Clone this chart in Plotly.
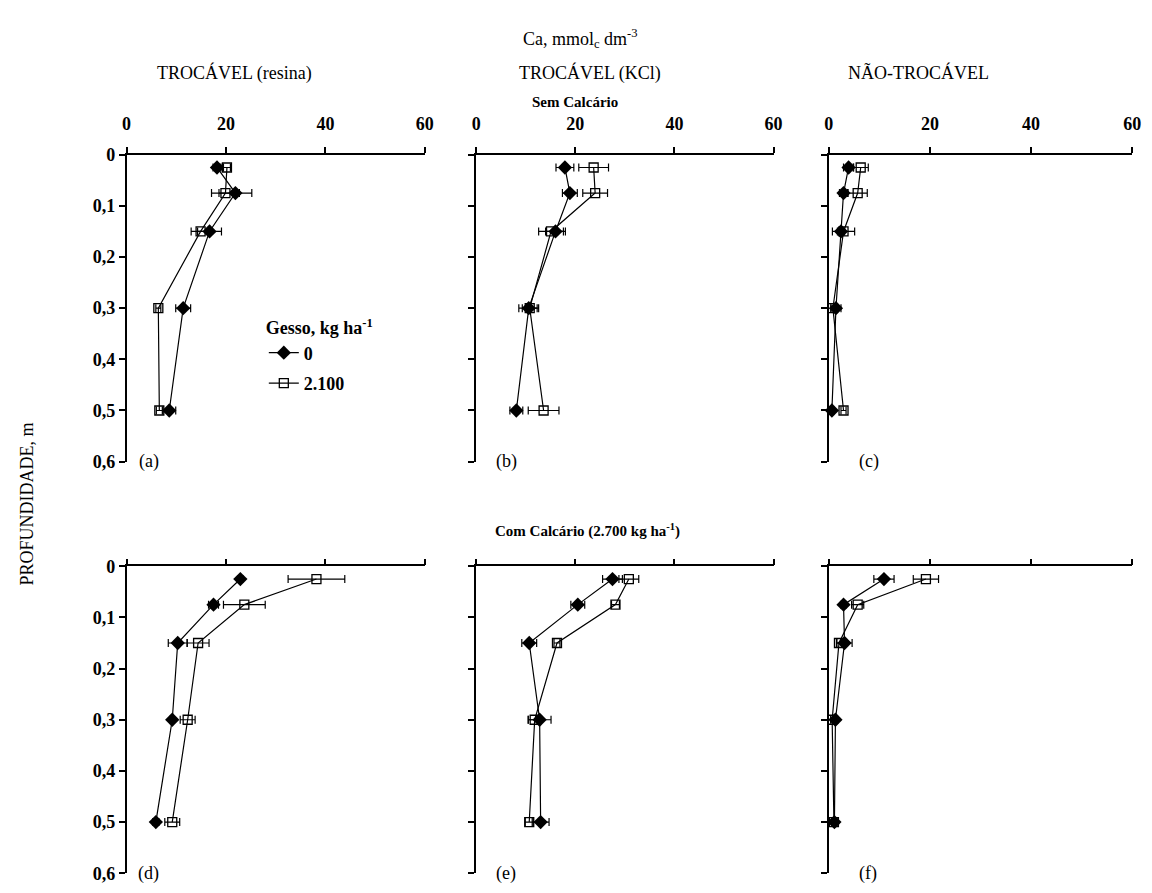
import plotly.graph_objects as go

# ---------------- data ----------------
depth = [0.025, 0.075, 0.15, 0.3, 0.5]

# (a) TROCÁVEL (resina), sem calcário
a_g0 = [18.2, 21.9, 16.7, 11.4, 8.6]
a_g0_err = [0.8, 3.3, 2.4, 1.5, 1.3]
a_g1 = [20.2, 19.9, 14.9, 6.4, 6.6]
a_g1_err = [0.7, 2.8, 1.9, 0.5, 0.6]
# (b) TROCÁVEL (KCl), sem calcário
b_g0 = [17.9, 18.9, 16.0, 10.6, 8.1]
b_g0_err = [1.8, 1.5, 2.0, 2.0, 1.3]
b_g1 = [23.7, 24.0, 15.1, 10.8, 13.6]
b_g1_err = [3.0, 2.5, 2.5, 1.5, 3.1]
# (c) NÃO-TROCÁVEL, sem calcário
c_g0 = [3.9, 2.9, 2.4, 1.4, 0.6]
c_g0_err = [1.0, 0.8, 0.7, 1.0, 0.4]
c_g1 = [6.3, 5.7, 2.9, 0.8, 2.9]
c_g1_err = [1.5, 1.9, 2.2, 0.4, 0.5]
# (d) TROCÁVEL (resina), com calcário
d_g0 = [22.9, 17.5, 10.3, 9.2, 5.9]
d_g0_err = [0.5, 1.0, 1.9, 0.4, 0.6]
d_g1 = [38.2, 23.7, 14.4, 12.3, 9.2]
d_g1_err = [5.7, 4.2, 2.2, 1.5, 1.5]
# (e) TROCÁVEL (KCl), com calcário
e_g0 = [27.5, 20.5, 10.7, 12.8, 13.0]
e_g0_err = [2.0, 1.4, 1.5, 2.3, 1.7]
e_g1 = [30.8, 28.1, 16.3, 11.8, 10.7]
e_g1_err = [2.0, 0.8, 0.6, 1.3, 0.8]
# (f) NÃO-TROCÁVEL, com calcário
f_g0 = [10.9, 2.9, 3.1, 1.3, 1.1]
f_g0_err = [2.0, 0.5, 1.5, 0.5, 0.4]
f_g1 = [19.2, 5.7, 2.0, 0.65, 1.0]
f_g1_err = [2.5, 1.2, 0.5, 0.3, 0.4]

series_names = ["0", "2.100"]
x_ticks = [0, 20, 40, 60]
y_ticks = [0, 0.1, 0.2, 0.3, 0.4, 0.5, 0.6]
y_ticktext = ["0", "0,1", "0,2", "0,3", "0,4", "0,5", "0,6"]
col_titles = ["TROCÁVEL (resina)", "TROCÁVEL (KCl)", "NÃO-TROCÁVEL"]
panel_labels = ["(a)", "(b)", "(c)", "(d)", "(e)", "(f)"]

panels = [
    (a_g0, a_g0_err, a_g1, a_g1_err),
    (b_g0, b_g0_err, b_g1, b_g1_err),
    (c_g0, c_g0_err, c_g1, c_g1_err),
    (d_g0, d_g0_err, d_g1, d_g1_err),
    (e_g0, e_g0_err, e_g1, e_g1_err),
    (f_g0, f_g0_err, f_g1, f_g1_err),
]

# ---------------- layout geometry ----------------
W, H = 1152, 893
FONT = "Liberation Serif, Times New Roman, serif"
col_px = [(123, 425), (477, 778), (834, 1141)]
row_px = [(148, 462), (569, 883)]

fig = go.Figure()
layout = dict(
    width=W, height=H,
    margin=dict(l=0, r=0, t=0, b=0),
    paper_bgcolor="white", plot_bgcolor="white",
    font=dict(family=FONT, color="black", size=18),
    showlegend=True,
)

for i, (g0, g0e, g1, g1e) in enumerate(panels):
    r, c = divmod(i, 3)
    n = i + 1
    xa = "x" if n == 1 else f"x{n}"
    ya = "y" if n == 1 else f"y{n}"
    err_style = dict(type="data", color="black", thickness=1.2, width=4, visible=True)
    fig.add_trace(go.Scatter(
        x=g0, y=depth, xaxis=xa, yaxis=ya, mode="lines+markers",
        name=series_names[0], legendgroup="g0", showlegend=(i == 0),
        line=dict(color="black", width=1.2),
        marker=dict(symbol="diamond", size=11, color="black"),
        error_x=dict(array=g0e, **err_style), cliponaxis=False,
    ))
    fig.add_trace(go.Scatter(
        x=g1, y=depth, xaxis=xa, yaxis=ya, mode="lines+markers",
        name=series_names[1], legendgroup="g1", showlegend=(i == 0),
        line=dict(color="black", width=1.2),
        marker=dict(symbol="square-open", size=9, color="black", line=dict(width=1.3)),
        error_x=dict(array=g1e, **err_style), cliponaxis=False,
    ))
    x0, x1 = col_px[c]
    y0, y1 = row_px[r]
    axis_common = dict(
        showline=True, linecolor="black", linewidth=1.5,
        ticks="outside", ticklen=6, tickwidth=1.5, tickcolor="black",
        showgrid=False, zeroline=False, fixedrange=True,
        tickfont=dict(family=FONT, size=18, color="black", weight="bold"),
    )
    layout["xaxis" if n == 1 else f"xaxis{n}"] = dict(
        axis_common, domain=[x0 / W, x1 / W], range=[0, 60],
        tickvals=x_ticks, side="top", anchor=ya,
        showticklabels=(r == 0), ticklabelstandoff=10,
    )
    layout["yaxis" if n == 1 else f"yaxis{n}"] = dict(
        axis_common, domain=[1 - y1 / H, 1 - y0 / H], range=[0.6, 0],
        tickvals=y_ticks, ticktext=y_ticktext, anchor=xa,
        showticklabels=(c == 0),
    )

annotations = []
def ann(text, x, y, size=18, bold=False, xanchor="center", yanchor="middle", **kw):
    d = dict(text=text, x=x / W, y=1 - y / H, xref="paper", yref="paper",
             xanchor=xanchor, yanchor=yanchor,
             showarrow=False, font=dict(family=FONT, size=size, color="black",
                                        weight="bold" if bold else "normal"))
    d.update(kw)
    annotations.append(d)

ann("Ca, mmol<sub>c</sub> dm<sup>-3</sup>", 583, 29)
for t, xc in zip(col_titles, [232, 592, 925]):
    ann(t, xc, 64)
ann("Sem Calcário", 577, 94, size=15, bold=True)
ann("Com Calcário (2.700 kg ha<sup>-1</sup>)", 590, 532, size=15, bold=True)
ann("PROFUNDIDADE, m", 22, 505, textangle=-90)
lab_pos = [(134, 462), (495, 462), (862, 462), (133, 883), (495, 883), (862, 883)]
for t, (px, py) in zip(panel_labels, lab_pos):
    ann(t, px, py, xanchor="left")

layout["annotations"] = annotations
layout["legend"] = dict(
    x=262 / W, y=1 - 308 / H, xanchor="left", yanchor="top",
    bgcolor="rgba(0,0,0,0)", borderwidth=0,
    title=dict(text="Gesso, kg ha<sup>-1</sup>", font=dict(family=FONT, size=18, weight="bold")),
    font=dict(family=FONT, size=18, color="black", weight="bold"),
    tracegroupgap=4,
)
fig.update_layout(**layout)
fig.write_html("out.html")
